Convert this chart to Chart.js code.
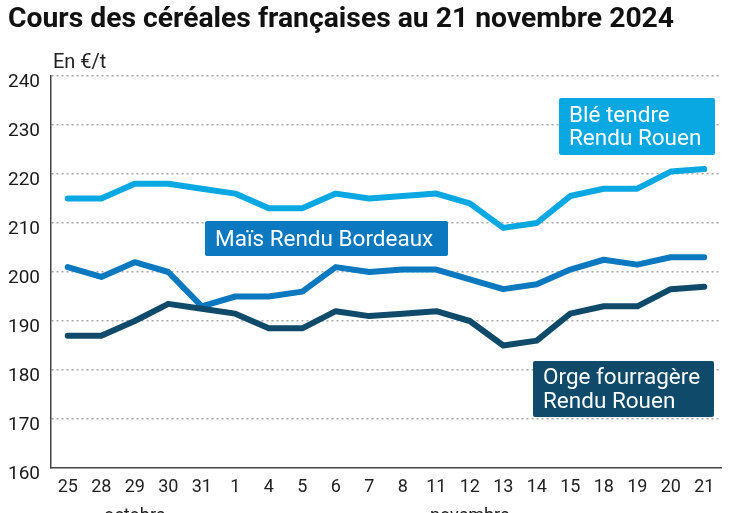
<!DOCTYPE html>
<html>
<head>
<meta charset="utf-8">
<script src="https://cdn.jsdelivr.net/npm/chart.js@4/dist/chart.umd.min.js"></script>
<style>
  body { margin: 0; background: #fff; }
  #wrap { width: 747px; height: 513px; }
</style>
</head>
<body>
<div id="wrap"><canvas id="cereales" width="747" height="513"></canvas></div>
<script>
// jours de cotation (25 oct. -> 21 nov. 2024)
const days = ["25", "28", "29", "30", "31", "1", "4", "5", "6", "7", "8", "11", "12", "13", "14", "15", "18", "19", "20", "21"];
const months = ["octobre", "novembre"];
const monthFirst = [0, 5];
const monthLast = [4, 19];

// prix en €/t
const ble = [215, 215, 218, 218, 217, 216, 213, 213, 216, 215, 215.5, 216, 214, 209, 210, 215.5, 217, 217, 220.5, 221];
const mais = [201, 199, 202, 200, 193, 195, 195, 196, 201, 200, 200.5, 200.5, 198.5, 196.5, 197.5, 200.5, 202.5, 201.5, 203, 203];
const orge = [187, 187, 190, 193.5, 192.5, 191.5, 188.5, 188.5, 192, 191, 191.5, 192, 190, 185, 186, 191.5, 193, 193, 196.5, 197];

const yTicks = [160, 170, 180, 190, 200, 210, 220, 230, 240];

const colBle = "#0aa8e2";
const colMais = "#0b78bf";
const colOrge = "#0f4a6b";
const font = "Roboto";

// étiquettes des séries (boîtes colorées)
const labelBoxes = [
  { lines: ["Blé tendre", "Rendu Rouen"], color: colBle, x: 559, y: 98, w: 156, h: 57 },
  { lines: ["Maïs Rendu Bordeaux"], color: colMais, x: 205, y: 221, w: 243, h: 35 },
  { lines: ["Orge fourragère", "Rendu Rouen"], color: colOrge, x: 533, y: 361, w: 181, h: 56 },
];

const decorPlugin = {
  id: "decor",
  afterDraw(chart) {
    const ctx = chart.ctx;
    ctx.save();
    // titre
    ctx.fillStyle = "#111";
    ctx.font = "bold 28.3px " + font;
    ctx.textBaseline = "alphabetic";
    ctx.textAlign = "left";
    ctx.fillText("Cours des céréales françaises au 21 novembre 2024", 8, 27);
    // unité
    ctx.font = "20px " + font;
    ctx.fillStyle = "#222";
    ctx.fillText("En €/t", 53, 68);
    // mois sous l'axe
    const x = chart.scales.x;
    ctx.font = "18px " + font;
    ctx.textAlign = "center";
    months.forEach((m, i) => {
      const cx = (x.getPixelForValue(monthFirst[i]) + x.getPixelForValue(monthLast[i])) / 2;
      ctx.fillText(m, cx, 521);
    });
    // boîtes de légende
    labelBoxes.forEach((b) => {
      ctx.fillStyle = b.color;
      ctx.beginPath();
      ctx.roundRect(b.x, b.y, b.w, b.h, 2);
      ctx.fill();
      ctx.fillStyle = "#fff";
      ctx.font = "22.5px " + font;
      ctx.textAlign = "left";
      ctx.textBaseline = "middle";
      const lh = 23.5;
      const top = b.y + b.h / 2 + 1.5 - (b.lines.length - 1) * lh / 2;
      b.lines.forEach((t, k) => ctx.fillText(t, b.x + 10, top + k * lh));
    });
    ctx.restore();
  },
};

const lineStyle = {
  borderWidth: 6,
  pointRadius: 0,
  tension: 0,
  borderJoinStyle: "round",
  borderCapStyle: "round",
  fill: false,
};

new Chart(document.getElementById("cereales"), {
  type: "line",
  data: {
    labels: days,
    datasets: [
      Object.assign({ label: "Blé tendre Rendu Rouen", data: ble, borderColor: colBle, order: 3 }, lineStyle),
      Object.assign({ label: "Maïs Rendu Bordeaux", data: mais, borderColor: colMais, order: 2 }, lineStyle),
      Object.assign({ label: "Orge fourragère Rendu Rouen", data: orge, borderColor: colOrge, order: 1 }, lineStyle),
    ],
  },
  options: {
    responsive: false,
    animation: false,
    layout: { padding: { top: 76, right: 26, left: 0, bottom: 0 } },
    plugins: { legend: { display: false }, tooltip: { enabled: false } },
    scales: {
      x: {
        offset: true,
        afterFit: (s) => { s.height = 45; },
        grid: { display: false, drawTicks: false },
        border: { display: true, color: "#444", width: 1.5 },
        ticks: { color: "#222", font: { family: font, size: 18 }, padding: 9, maxRotation: 0, autoSkip: false },
      },
      y: {
        min: yTicks[0],
        max: yTicks[yTicks.length - 1],
        afterFit: (s) => { s.width = 51; },
        afterBuildTicks: (s) => { s.ticks = yTicks.map((v) => ({ value: v })); },
        grid: {
          drawTicks: false,
          lineWidth: 1.5,
          color: (c) => (c.tick && c.tick.value === yTicks[0] ? "rgba(0,0,0,0)" : "#a8a8a8"),
        },
        border: { display: true, color: "#444", width: 1.5, dash: [2, 3] },
        ticks: { color: "#1a1a1a", font: { family: font, size: 19 }, padding: 11, labelOffset: 6 },
      },
    },
  },
  plugins: [decorPlugin],
});
</script>
</body>
</html>
